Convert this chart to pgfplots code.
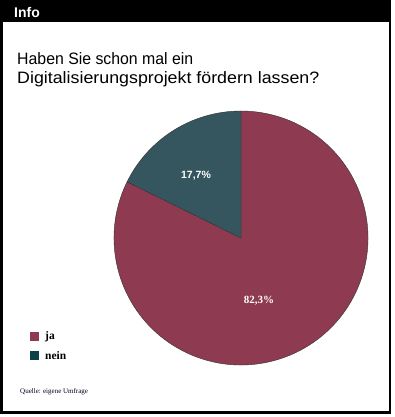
\documentclass[border=0pt]{standalone}
\usepackage{pgfplots}
\usepackage{pgfplotstable}
\pgfplotsset{compat=1.18}
\usepackage{fontspec}
\usepackage{graphicx}
\setmainfont{Liberation Serif}
\setsansfont{Liberation Sans}
\definecolor{ja}{HTML}{8E3A50}
\definecolor{neinpie}{HTML}{36565F}
\definecolor{nein}{HTML}{0F4149}
\pgfplotstableread{
label value
ja 82.3
nein 17.7
}\piedata
\begin{document}
\begin{tikzpicture}
\begin{axis}[
  x=1pt, y=1pt, xmin=0, xmax=394, ymin=0, ymax=417,
  hide axis, scale only axis, clip=false,
]
\pgfplotstablegetelem{0}{value}\of\piedata \let\vja\pgfplotsretval
\pgfplotstablegetelem{1}{value}\of\piedata \let\vnein\pgfplotsretval
\pgfmathsetmacro{\anein}{90+3.6*\vnein}
% frame
\fill[white] (0,0) rectangle (394,417);
\draw[line width=2.6pt] (1.5,4.5) rectangle (390,415.5);
\fill[black] (1.5,395) rectangle (390,415.5);
\node[anchor=base west, text=white, font=\sffamily\bfseries\fontsize{14}{14}\selectfont, inner sep=0] at (14,399) {Info};
% title
\node[anchor=base west, align=left, font=\sffamily\fontsize{16.5}{19}\selectfont, inner sep=0] at (17,352) {\scalebox{0.96}[1]{Haben Sie schon mal ein}};
\node[anchor=base west, align=left, font=\sffamily\fontsize{16.5}{19}\selectfont, inner sep=0] at (17,333) {\scalebox{1.08}[1]{Digitalisierungsprojekt f\"ordern lassen?}};
% pie
\fill[ja, draw=black!80, line width=0.4pt] (241,179) -- ++(\anein:127) arc[start angle=\anein, end angle=450, radius=127] -- cycle;
\fill[neinpie, draw=black!80, line width=0.4pt] (241,179) -- ++(90:127) arc[start angle=90, end angle=\anein, radius=127] -- cycle;
\node[text=white, font=\sffamily\bfseries\fontsize{10.5}{12}\selectfont] at (196,241) {17,7\%};
\node[text=white, font=\bfseries\fontsize{11}{12}\selectfont] at (259,116) {82,3\%};
% legend
\fill[ja] (30,76) rectangle (39,85);
\node[anchor=west, font=\bfseries\fontsize{11.5}{12}\selectfont, inner sep=0] at (45,80.5) {ja};
\fill[nein] (30,57) rectangle (39,66);
\node[anchor=west, font=\bfseries\fontsize{11.5}{12}\selectfont, inner sep=0] at (45,61.5) {nein};
% source
\node[anchor=west, font=\fontsize{7}{8}\selectfont, inner sep=0, text=black!90!blue] at (20,25) {Quelle: eigene Umfrage};
\end{axis}
\end{tikzpicture}
\end{document}
